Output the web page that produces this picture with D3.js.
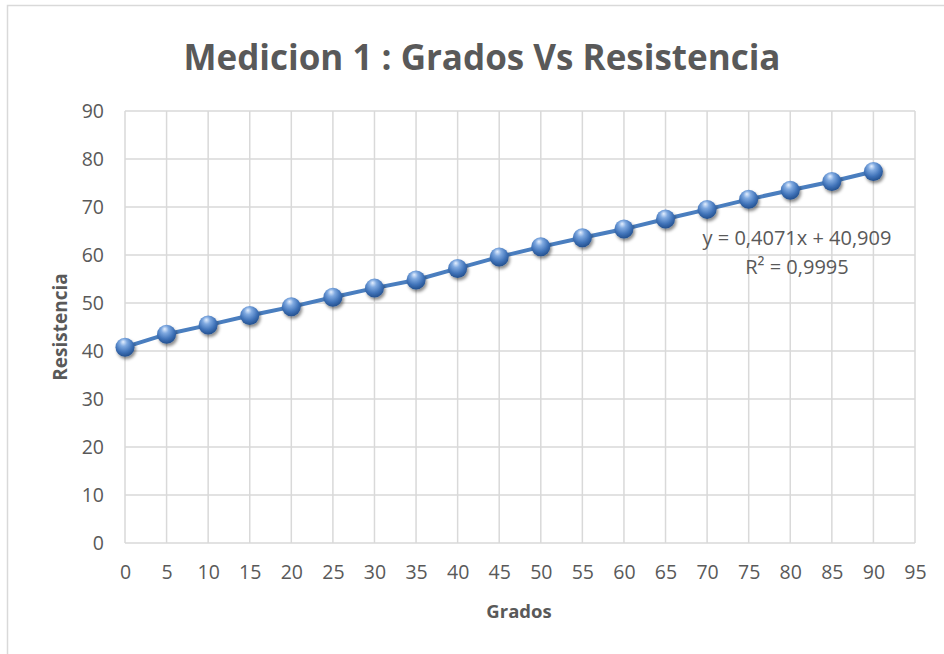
<!DOCTYPE html>
<html>
<head>
<meta charset="utf-8">
<script src="https://cdn.jsdelivr.net/npm/d3@7"></script>
<style>
  body { margin: 0; background: #fff; }
  text { font-family: "Open Sans", "Liberation Sans", sans-serif; fill: #595959; }
</style>
</head>
<body>
<div id="chart"></div>
<script>
let w = 944;
let h = 654;

// data
let grados = [0, 5, 10, 15, 20, 25, 30, 35, 40, 45, 50, 55, 60, 65, 70, 75, 80, 85, 90];
let resistencia = [40.8, 43.5, 45.4, 47.4, 49.2, 51.2, 53.1, 54.8, 57.2, 59.6, 61.7, 63.6, 65.4, 67.5, 69.5, 71.6, 73.5, 75.3, 77.4];
let xTicks = d3.range(0, 96, 5);
let yTicks = d3.range(0, 91, 10);
let titleText = "Medicion 1 : Grados Vs Resistencia";
let eqLines = ["y = 0,4071x + 40,909", "R² = 0,9995"];

let data = grados.map((g, i) => ({ x: g, y: resistencia[i] }));

let viz = d3.select("#chart")
  .append("svg")
  .attr("width", w)
  .attr("height", h);

// outer chart border
viz.append("rect")
  .attr("x", 7.5).attr("y", 5.5)
  .attr("width", w + 20).attr("height", h + 20)
  .attr("fill", "none")
  .attr("stroke", "#d9d9d9")
  .attr("stroke-width", 1.5);

let xScale = d3.scaleLinear().domain([0, 95]).range([125, 915]);
let yScale = d3.scaleLinear().domain([0, 90]).range([543, 111]);

// gridlines
viz.append("g").selectAll("line").data(yTicks).enter()
  .append("line")
  .attr("x1", xScale(0)).attr("x2", xScale(95))
  .attr("y1", d => yScale(d)).attr("y2", d => yScale(d))
  .attr("stroke", "#d9d9d9").attr("stroke-width", 1.5);

viz.append("g").selectAll("line").data(xTicks).enter()
  .append("line")
  .attr("x1", d => xScale(d)).attr("x2", d => xScale(d))
  .attr("y1", yScale(0)).attr("y2", yScale(90))
  .attr("stroke", "#d9d9d9").attr("stroke-width", 1.5);

// axes labels via d3 axes
let xAxis = viz.append("g")
  .attr("transform", "translate(0," + yScale(0) + ")")
  .call(d3.axisBottom(xScale).tickValues(xTicks).tickSize(0).tickPadding(22));
let yAxis = viz.append("g")
  .attr("transform", "translate(" + xScale(0) + ",0)")
  .call(d3.axisLeft(yScale).tickValues(yTicks).tickSize(0).tickPadding(21));

[xAxis, yAxis].forEach(a => {
  a.select(".domain").remove();
  a.selectAll("text")
    .style("font-family", "'Open Sans', sans-serif")
    .style("font-size", "19.5px")
    .attr("fill", "#595959");
});

// title
viz.append("text")
  .attr("x", 482).attr("y", 70)
  .attr("text-anchor", "middle")
  .style("font-size", "35px")
  .style("font-weight", "bold")
  .text(titleText);

// axis titles
viz.append("text")
  .attr("x", 519).attr("y", 618)
  .attr("text-anchor", "middle")
  .style("font-size", "18.5px")
  .style("font-weight", "bold")
  .text("Grados");

viz.append("text")
  .attr("transform", "translate(67,327) rotate(-90)")
  .attr("text-anchor", "middle")
  .style("font-size", "19px")
  .style("font-weight", "bold")
  .text("Resistencia");

// sphere look for markers
let defs = viz.append("defs");
let grad = defs.append("radialGradient")
  .attr("id", "sphere")
  .attr("cx", "45%").attr("cy", "35%").attr("r", "65%")
  .attr("fx", "40%").attr("fy", "22%");
grad.append("stop").attr("offset", "0%").attr("stop-color", "#e4efff");
grad.append("stop").attr("offset", "30%").attr("stop-color", "#7fa9e0");
grad.append("stop").attr("offset", "70%").attr("stop-color", "#3f72b8");
grad.append("stop").attr("offset", "100%").attr("stop-color", "#23508e");

let shadow = defs.append("filter").attr("id", "shadow")
  .attr("x", "-50%").attr("y", "-50%").attr("width", "200%").attr("height", "200%");
shadow.append("feDropShadow")
  .attr("dx", 1.5).attr("dy", 2.5).attr("stdDeviation", 1.8)
  .attr("flood-color", "#000").attr("flood-opacity", 0.45);

// series line
let line = d3.line().x(d => xScale(d.x)).y(d => yScale(d.y));
viz.append("path")
  .datum(data)
  .attr("d", line)
  .attr("fill", "none")
  .attr("stroke", "#4a7ebf")
  .attr("stroke-width", 4);

viz.selectAll(".datapoint").data(data).enter()
  .append("circle")
  .attr("class", "datapoint")
  .attr("cx", d => xScale(d.x))
  .attr("cy", d => yScale(d.y))
  .attr("r", 9.5)
  .attr("fill", "url(#sphere)")
  .attr("filter", "url(#shadow)");

// trendline equation
viz.selectAll(".eq").data(eqLines).enter()
  .append("text")
  .attr("class", "eq")
  .attr("x", 797)
  .attr("y", (d, i) => 245 + i * 29)
  .attr("text-anchor", "middle")
  .style("font-size", "20px")
  .text(d => d);
</script>
</body>
</html>
